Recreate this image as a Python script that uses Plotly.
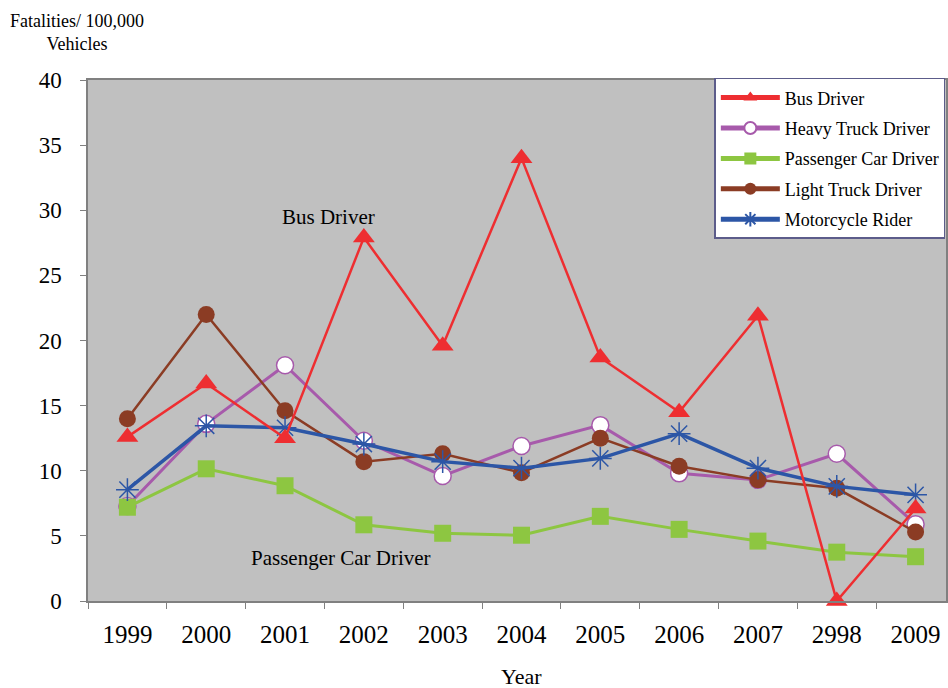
import plotly.graph_objects as go

# Year labels as printed on the category axis
years = ["1999", "2000", "2001", "2002", "2003", "2004",
         "2005", "2006", "2007", "2998", "2009"]

# Fatalities per 100,000 vehicles
bus_driver = [12.6, 16.7, 12.5, 27.9, 19.6, 34.0, 18.7, 14.5, 21.9, 0.0, 7.1]
heavy_truck_driver = [7.3, 13.6, 18.1, 12.3, 9.6, 11.9, 13.5, 9.8, 9.3, 11.3, 5.9]
passenger_car_driver = [7.2, 10.15, 8.85, 5.85, 5.2, 5.05, 6.5, 5.5, 4.6, 3.75, 3.4]
light_truck_driver = [14.0, 22.0, 14.6, 10.7, 11.3, 9.85, 12.5, 10.35, 9.3, 8.65, 5.3]
motorcycle_rider = [8.55, 13.45, 13.3, 12.05, 10.7, 10.2, 10.95, 12.85, 10.2, 8.8, 8.15]

FONT = "Liberation Serif"
AXIS_GRAY = "#808080"

fig = go.Figure()

# drawn bottom-to-top; legendrank keeps the legend order
fig.add_trace(go.Scatter(
    x=years, y=heavy_truck_driver, name="Heavy Truck Driver", mode="lines+markers",
    line=dict(color="#a75aab", width=3),
    marker=dict(symbol="circle", size=17, color="white",
                line=dict(color="#a75aab", width=1.5)),
    legendrank=2, legendgroup="g2", cliponaxis=False))
fig.add_trace(go.Scatter(
    x=years, y=light_truck_driver, name="Light Truck Driver", mode="lines+markers",
    line=dict(color="#8b3c24", width=2.5),
    marker=dict(symbol="circle", size=17, color="#8b3c24"),
    legendrank=4, legendgroup="g4", cliponaxis=False))
fig.add_trace(go.Scatter(
    x=years, y=passenger_car_driver, name="Passenger Car Driver", mode="lines+markers",
    line=dict(color="#8dc641", width=3),
    marker=dict(symbol="square", size=17, color="#8dc641"),
    legendrank=3, legendgroup="g3", cliponaxis=False))
fig.add_trace(go.Scatter(
    x=years, y=motorcycle_rider, name="Motorcycle Rider", mode="lines+markers",
    line=dict(color="#2c56a6", width=3.5),
    marker=dict(symbol="asterisk-open", size=19,
                line=dict(color="#2c56a6", width=1.5)),
    legendrank=5, legendgroup="g5", cliponaxis=False))
fig.add_trace(go.Scatter(
    x=years, y=bus_driver, name="Bus Driver", mode="lines+markers",
    line=dict(color="#ee2e31", width=2.5),
    marker=dict(symbol="triangle-up", size=19, color="#ee2e31"),
    legendrank=1, legendgroup="g1", cliponaxis=False))

fig.update_layout(
    width=948, height=688,
    margin=dict(l=88, r=0, t=80, b=87),
    paper_bgcolor="white",
    plot_bgcolor="#c0c0c0",
    font=dict(family=FONT, color="black"),
    showlegend=True,
    legend=dict(
        x=0.730, y=1.004, xanchor="left", yanchor="top",
        bgcolor="white", bordercolor="#5c5c8a", borderwidth=1.5,
        font=dict(family=FONT, size=18, color="black"),
        traceorder="grouped", tracegroupgap=4, itemwidth=59,
        itemsizing="constant",
    ),
    xaxis=dict(
        type="category", range=[-0.5, 10.386],
        tickson="boundaries", ticks="outside", ticklen=6, tickcolor=AXIS_GRAY,
        showline=True, linecolor=AXIS_GRAY, linewidth=1.5, mirror=True,
        showgrid=False, zeroline=False,
        tickfont=dict(family=FONT, size=25, color="black"),
        ticklabelstandoff=10,
    ),
    yaxis=dict(
        range=[0, 40], dtick=5, tick0=0,
        ticks="outside", ticklen=6, tickcolor=AXIS_GRAY,
        showline=True, linecolor=AXIS_GRAY, linewidth=1.5, mirror=True,
        showgrid=False, zeroline=False,
        tickfont=dict(family=FONT, size=23, color="black"),
        ticklabelstandoff=14,
    ),
    annotations=[
        dict(text="Year", xref="paper", yref="paper", x=0.5058, y=-0.1440,
             xanchor="center", yanchor="middle", showarrow=False,
             font=dict(family=FONT, size=22)),
        dict(text="Fatalities/ 100,000<br>Vehicles", xref="paper", yref="paper",
             x=-0.0128, y=1.091, xanchor="center", yanchor="middle", showarrow=False,
             align="center", font=dict(family=FONT, size=18)),
        dict(text="Bus Driver", xref="x", yref="y", x=2.547, y=29.5,
             xanchor="center", yanchor="middle", showarrow=False,
             font=dict(family=FONT, size=21)),
        dict(text="Passenger Car Driver", xref="x", yref="y", x=2.705, y=3.3,
             xanchor="center", yanchor="middle", showarrow=False,
             font=dict(family=FONT, size=21)),
    ],
)

fig.write_html("out.html")
